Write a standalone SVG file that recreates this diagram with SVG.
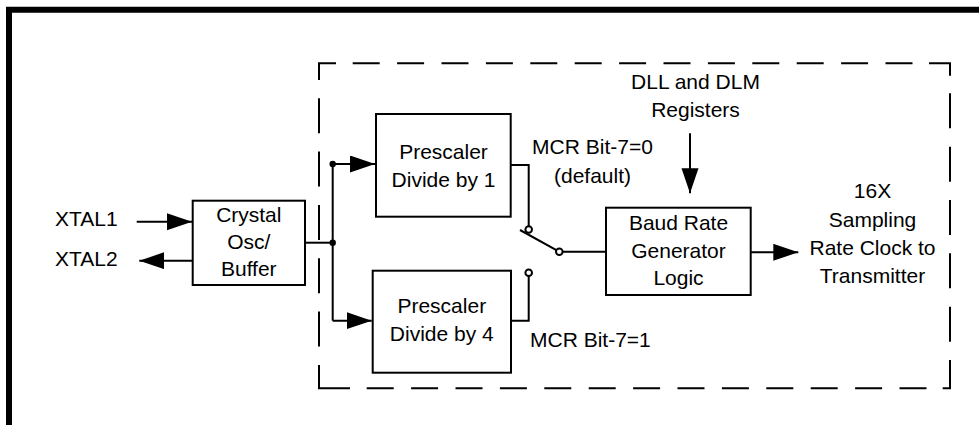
<svg xmlns="http://www.w3.org/2000/svg" width="979" height="425" viewBox="0 0 979 425">
<defs>
<style>
.t{font-family:"Liberation Sans",Arial,sans-serif;font-size:21px;fill:#000}
.m{text-anchor:middle}
.box{fill:#fff;stroke:#000;stroke-width:2}
.ln{fill:none;stroke:#000;stroke-width:2}
.dash{fill:none;stroke:#000;stroke-width:2;stroke-linejoin:miter}
.ct{fill:#fff;stroke:#000;stroke-width:2}
.dot{fill:#000}
</style>
<marker id="ah" markerUnits="userSpaceOnUse" markerWidth="26" markerHeight="18" refX="25" refY="8.5" orient="auto">
<path d="M0,0 L25,8.5 L0,17 z" fill="#000"/>
</marker>
</defs>
<rect width="979" height="425" fill="#fff"/>
<path d="M9,430 V9.7 H990" fill="none" stroke="#000" stroke-width="6" stroke-linejoin="miter"/>
<g id="group-boundary">
<path class="dash" d="M336,63.3 H319 V80 M929,63.3 H950 V75.7 M319,365 V388.3 H350 M942.7,388.3 H950 V360
M352.7,63.3 h27 M397.1,63.3 h27 M441.5,63.3 h27 M485.9,63.3 h27 M530.3,63.3 h27 M574.7,63.3 h27 M619.1,63.3 h27 M663.5,63.3 h27 M707.9,63.3 h27 M752.3,63.3 h27 M796.7,63.3 h27 M841.1,63.3 h27 M885.5,63.3 h27
M366.7,388.3 h27 M411.1,388.3 h27 M455.5,388.3 h27 M499.9,388.3 h27 M544.3,388.3 h27 M588.7,388.3 h27 M633.1,388.3 h27 M677.5,388.3 h27 M721.9,388.3 h27 M766.3,388.3 h27 M810.7,388.3 h27 M855.1,388.3 h27 M899.5,388.3 h27
M319,98.3 v35 M319,151.6 v35 M319,205 v35 M319,258.3 v35 M319,311.6 v35
M950,93.3 v35 M950,146.7 v35 M950,200 v35 M950,253.3 v35 M950,306.7 v35"/>
</g>
<g id="connectors">
<path class="ln" d="M136.7,221.7 H192" marker-end="url(#ah)"/>
<path class="ln" d="M192.7,260.7 H139.3" marker-end="url(#ah)"/>
<path class="ln" d="M305,242.7 H332.7"/>
<path class="ln" d="M332.7,164 V320.7"/>
<path class="ln" d="M332.7,164 H375" marker-end="url(#ah)"/>
<path class="ln" d="M332.7,320.7 H371.7" marker-end="url(#ah)"/>
<circle class="dot" cx="332.7" cy="164" r="3.2"/>
<circle class="dot" cx="332.7" cy="242.7" r="3.2"/>
<path class="ln" d="M510.7,165 H528.7 V226.2"/>
<path class="ln" d="M520,230 L556.4,250.1"/>
<path class="ln" d="M562.6,251.7 H606"/>
<path class="ln" d="M511,320.7 H528.7 V276"/>
<circle class="ct" cx="528.7" cy="229.5" r="3.3"/>
<circle class="ct" cx="559.3" cy="251.7" r="3.3"/>
<circle class="ct" cx="528.7" cy="272.7" r="3.3"/>
<path class="ln" d="M690,133.3 V193.3" marker-end="url(#ah)"/>
<path class="ln" d="M750.7,252.3 H798.3" marker-end="url(#ah)"/>
</g>
<g id="xtal-labels">
<text class="t" x="55" y="225.7">XTAL1</text>
<text class="t" x="55" y="266">XTAL2</text>
</g>
<g id="crystal-osc">
<rect class="box" x="192.7" y="200.7" width="112.3" height="84.3"/>
<text class="t m" x="248.8" y="221.5">Crystal</text>
<text class="t m" x="248.8" y="248.5">Osc/</text>
<text class="t m" x="248.8" y="276">Buffer</text>
</g>
<g id="prescaler-1">
<rect class="box" x="376" y="114" width="134.7" height="102.7"/>
<text class="t m" x="443.5" y="159">Prescaler</text>
<text class="t m" x="443.5" y="187">Divide by 1</text>
</g>
<g id="prescaler-4">
<rect class="box" x="372.7" y="270.7" width="138.3" height="102"/>
<text class="t m" x="441.8" y="313">Prescaler</text>
<text class="t m" x="441.8" y="341">Divide by 4</text>
</g>
<g id="switch-labels">
<text class="t m" x="592.5" y="154">MCR Bit-7=0</text>
<text class="t m" x="592.5" y="182.5">(default)</text>
<text class="t" x="530" y="347">MCR Bit-7=1</text>
</g>
<g id="dll-dlm">
<text class="t m" x="695.5" y="88.5">DLL and DLM</text>
<text class="t m" x="695.5" y="116.7">Registers</text>
</g>
<g id="baud-rate-generator">
<rect class="box" x="606" y="207.7" width="144.7" height="87.3"/>
<text class="t m" x="678.5" y="229.5">Baud Rate</text>
<text class="t m" x="678.5" y="257.5">Generator</text>
<text class="t m" x="678.5" y="285">Logic</text>
</g>
<g id="output-label">
<text class="t m" x="872.5" y="198.3">16X</text>
<text class="t m" x="872.5" y="226.7">Sampling</text>
<text class="t m" x="872.5" y="255">Rate Clock to</text>
<text class="t m" x="872.5" y="283.3">Transmitter</text>
</g>
</svg>
